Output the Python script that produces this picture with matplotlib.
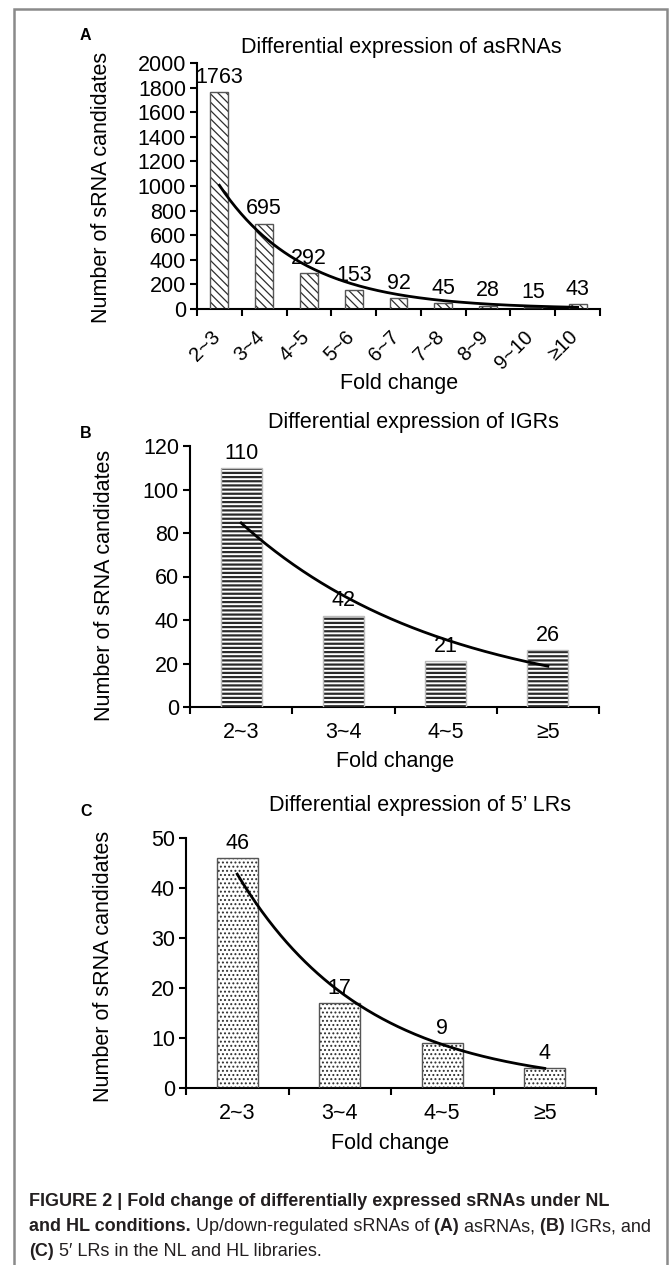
import numpy as np
import matplotlib
matplotlib.use('Agg')
import matplotlib.pyplot as plt
import matplotlib.transforms as mtransforms
from matplotlib.patches import Rectangle

plt.rcParams['font.family'] = ['Liberation Sans', 'DejaVu Sans']

# ---------------- data ----------------
cats_a = ['2~3', '3~4', '4~5', '5~6', '6~7', '7~8', '8~9', '9~10', '≥10']
vals_a = [1763, 695, 292, 153, 92, 45, 28, 15, 43]

cats_b = ['2~3', '3~4', '4~5', '≥5']
vals_b = [110, 42, 21, 26]

cats_c = ['2~3', '3~4', '4~5', '≥5']
vals_c = [46, 17, 9, 4]

titles = ['Differential expression of asRNAs',
          'Differential expression of IGRs',
          'Differential expression of 5’ LRs']

W, H = 669, 1265
FS = 15.5
fig = plt.figure(figsize=(W / 100, H / 100), dpi=100)


def fx(px):
    return px / W


def fy(py):
    return 1 - py / H


def panel(rect, cats, vals, ymax, ystep, hatch, edge, hatch_lw, outline, rot):
    l, r, t, b = rect
    ax = fig.add_axes([fx(l), fy(b), fx(r - l), fy(t) - fy(b)])
    n = len(vals)
    x = np.arange(1, n + 1)
    with plt.rc_context({'hatch.linewidth': hatch_lw}):
        bars = ax.bar(x, vals, width=0.4, color='white', edgecolor=edge,
                      hatch=hatch, linewidth=0, zorder=2)
        for p in bars:
            if hasattr(p, 'set_hatch_linewidth'):
                p.set_hatch_linewidth(hatch_lw)
    ax.bar(x, vals, width=0.4, color='none', edgecolor=outline,
           linewidth=1.0, zorder=3)
    for xi, v in zip(x, vals):
        ax.annotate(str(v), (xi, v), xytext=(0, 3), textcoords='offset points',
                    ha='center', va='bottom', fontsize=FS, zorder=5)
    # exponential trendline fitted to the bar values
    b_, a_ = np.polyfit(x, np.log(vals), 1)
    xs = np.linspace(1, n, 200)
    ax.plot(xs, np.exp(a_) * np.exp(b_ * xs), color='black', lw=2, zorder=4)

    ax.set_xlim(0.5, n + 0.5)
    ax.set_ylim(0, ymax)
    ax.set_yticks(np.arange(0, ymax + 1, ystep))
    ax.set_xticks(x)
    ax.set_xticks(np.arange(0.5, n + 1), minor=True)
    ax.tick_params(axis='x', which='major', length=0, pad=11)
    ax.tick_params(axis='x', which='minor', length=5, width=1.5, direction='out')
    ax.tick_params(axis='y', length=5, width=1.5, direction='out', pad=3,
                   labelsize=FS)
    if rot:
        ax.set_xticklabels(cats, rotation=45, ha='right', va='top',
                           rotation_mode='anchor', fontsize=14.5)
        ax.tick_params(axis='x', which='major', pad=13)
        shift = mtransforms.ScaledTranslation(-9 / 100, 0, fig.dpi_scale_trans)
        for lab in ax.get_xticklabels():
            lab.set_transform(lab.get_transform() + shift)
    else:
        ax.set_xticklabels(cats, fontsize=FS)
    for s in ['top', 'right']:
        ax.spines[s].set_visible(False)
    for s in ['left', 'bottom']:
        ax.spines[s].set_linewidth(1.5)
    ax.set_facecolor('none')
    return ax


panel((197, 600, 63, 309), cats_a, vals_a, 2000, 200, '\\\\\\\\', '#2e2e2e', 0.9,
      '#555555', True)
panel((190, 599, 446, 707), cats_b, vals_b, 120, 20, '----', '#2a2a2a', 1.6,
      '#bbbbbb', False)
panel((186, 596, 838, 1088), cats_c, vals_c, 50, 10, '....', '#2e2e2e', 0.9,
      '#555555', False)

# panel letters, titles, axis labels
for letter, yy in [('A', 35), ('B', 433), ('C', 812)]:
    fig.text(fx(80), fy(yy), letter, fontsize=11.5, fontweight='bold',
             va='center', ha='left')
for ttl, xx, yy in zip(titles, [401, 413, 420], [48, 422, 806]):
    fig.text(fx(xx), fy(yy), ttl, fontsize=FS, ha='center', va='center')
for xx, yy in [(102, 187), (105, 585), (104, 966)]:
    fig.text(fx(xx), fy(yy), 'Number of sRNA candidates', fontsize=FS,
             rotation=90, ha='center', va='center')
for xx, yy in [(399, 383), (395, 761), (390, 1144)]:
    fig.text(fx(xx), fy(yy), 'Fold change', fontsize=FS, ha='center',
             va='center')

# outer frame
fig.patches.append(Rectangle((fx(14), -0.02), fx(667 - 14), fy(9) + 0.02,
                             transform=fig.transFigure, fill=False,
                             edgecolor='#8a8a8a', linewidth=1.8))

# caption with mixed weights
CAP = '#231f20'
CFS = 13
renderer = fig.canvas.get_renderer()


def rich_line(x_px, y_px, parts):
    x = fx(x_px)
    for txt, bold in parts:
        t = fig.text(x, fy(y_px), txt, fontsize=CFS, color=CAP,
                     fontweight='bold' if bold else 'normal', va='baseline',
                     ha='left')
        bb = t.get_window_extent(renderer=renderer)
        x = fig.transFigure.inverted().transform((bb.x1, bb.y0))[0]


rich_line(29, 1206, [('FIGURE 2 | Fold change of differentially expressed sRNAs under NL', True)])
rich_line(29, 1231, [('and HL conditions.', True),
                     (' Up/down-regulated sRNAs of', False),
                     (' (A)', True), (' asRNAs,', False),
                     (' (B)', True), (' IGRs, and', False)])
rich_line(29, 1256, [('(C)', True), (' 5′ LRs in the NL and HL libraries.', False)])

fig.savefig('out.png', dpi=100)
